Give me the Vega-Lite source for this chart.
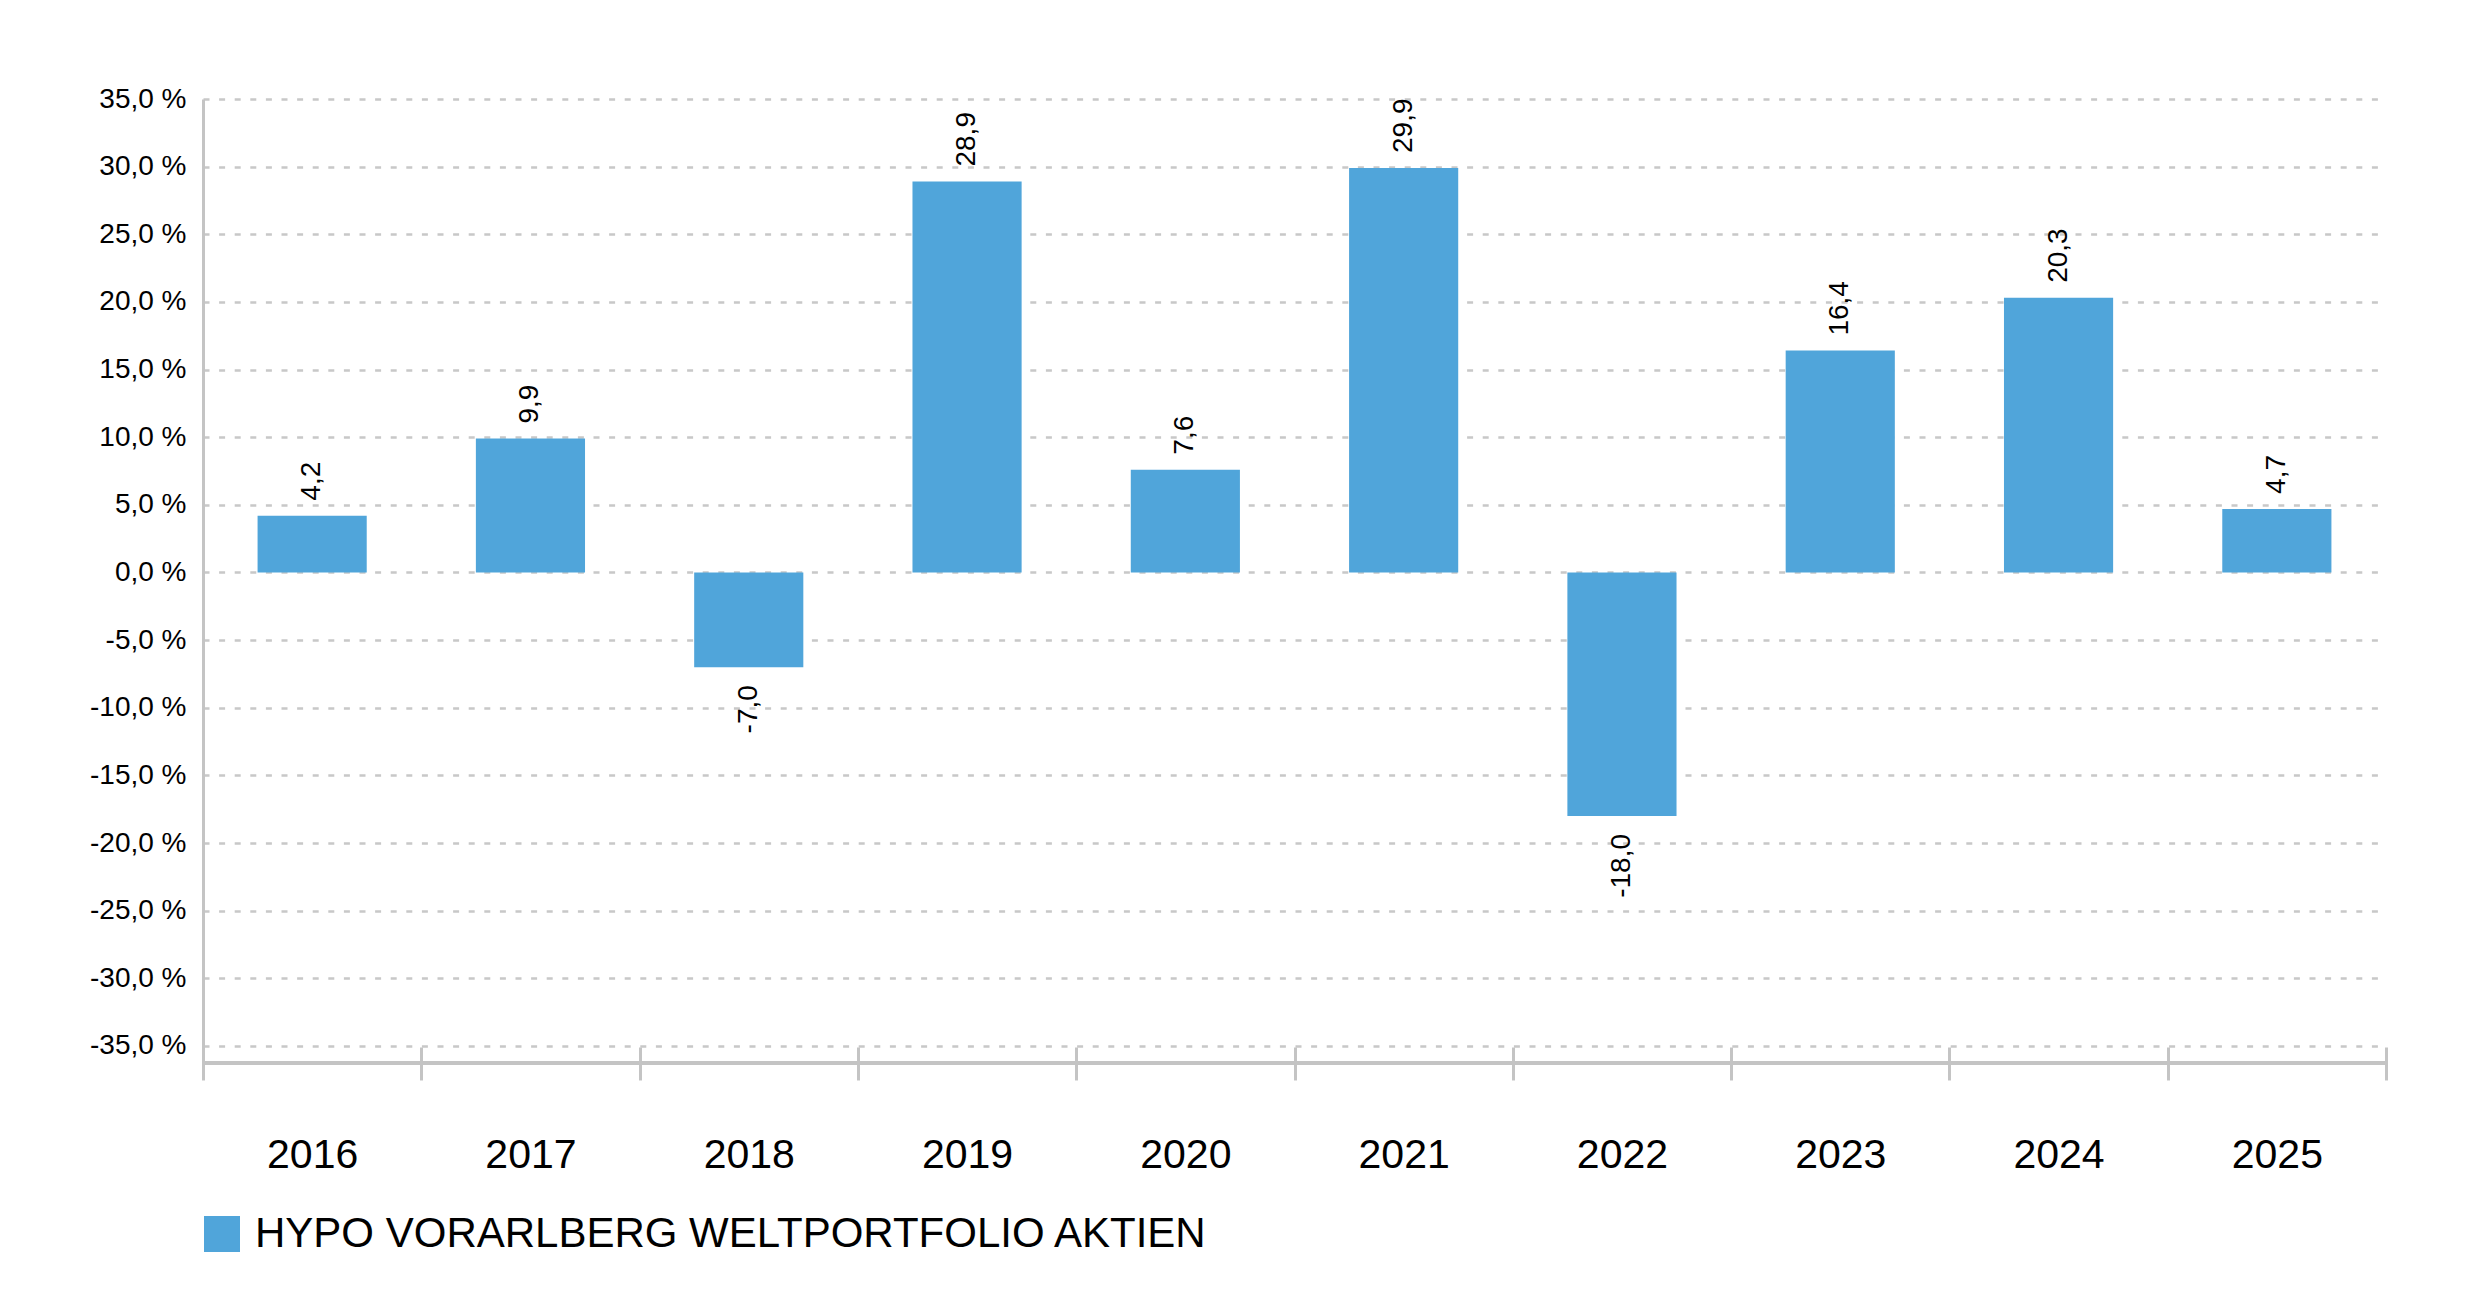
{
  "$schema": "https://vega.github.io/schema/vega-lite/v6.json",
  "width": 2183,
  "height": 964,
  "autosize": "none",
  "padding": {"left": 203, "top": 99, "right": 94, "bottom": 236},
  "background": "white",
  "config": {
    "locale": {"number": {"decimal": ",", "thousands": ".", "grouping": [3], "currency": ["", " €"], "minus": "-"}},
    "font": "Liberation Sans",
    "view": {"stroke": null}
  },
  "data": {
    "values": [
      {"year": "2016", "value": 4.2, "series": "HYPO VORARLBERG WELTPORTFOLIO AKTIEN"},
      {"year": "2017", "value": 9.9, "series": "HYPO VORARLBERG WELTPORTFOLIO AKTIEN"},
      {"year": "2018", "value": -7.0, "series": "HYPO VORARLBERG WELTPORTFOLIO AKTIEN"},
      {"year": "2019", "value": 28.9, "series": "HYPO VORARLBERG WELTPORTFOLIO AKTIEN"},
      {"year": "2020", "value": 7.6, "series": "HYPO VORARLBERG WELTPORTFOLIO AKTIEN"},
      {"year": "2021", "value": 29.9, "series": "HYPO VORARLBERG WELTPORTFOLIO AKTIEN"},
      {"year": "2022", "value": -18.0, "series": "HYPO VORARLBERG WELTPORTFOLIO AKTIEN"},
      {"year": "2023", "value": 16.4, "series": "HYPO VORARLBERG WELTPORTFOLIO AKTIEN"},
      {"year": "2024", "value": 20.3, "series": "HYPO VORARLBERG WELTPORTFOLIO AKTIEN"},
      {"year": "2025", "value": 4.7, "series": "HYPO VORARLBERG WELTPORTFOLIO AKTIEN"}
    ]
  },
  "layer": [
    {
      "mark": {"type": "bar", "width": {"band": 0.5}},
      "encoding": {
        "x": {
          "field": "year",
          "type": "nominal",
          "sort": null,
          "scale": {"paddingInner": 0, "paddingOuter": 0},
          "axis": {
            "title": null,
            "domain": false,
            "grid": false,
            "tickBand": "extent",
            "offset": -16,
            "tickSize": 33,
            "tickWidth": 3,
            "tickColor": "#c4c4c4",
            "labelAngle": 0,
            "labelFontSize": 41,
            "labelColor": "#000000",
            "labelFont": "Liberation Sans",
            "labelPadding": 55
          }
        },
        "y": {
          "field": "value",
          "type": "quantitative",
          "scale": {"domain": [-36.26, 35], "nice": false, "zero": false},
          "axis": {
            "title": null,
            "values": [-35, -30, -25, -20, -15, -10, -5, 0, 5, 10, 15, 20, 25, 30, 35],
            "format": ".1f",
            "labelExpr": "datum.label + ' %'",
            "labelFontSize": 28,
            "labelColor": "#000000",
            "labelFont": "Liberation Sans",
            "labelPadding": 17,
            "ticks": false,
            "domain": true,
            "domainColor": "#c4c4c4",
            "domainWidth": 3,
            "grid": true,
            "gridColor": "#c8c8c8",
            "gridWidth": 2.5,
            "gridDash": [6, 9.6]
          }
        },
        "color": {
          "field": "series",
          "type": "nominal",
          "scale": {"range": ["#50A5DA"]},
          "legend": {
            "title": null,
            "orient": "none",
            "legendX": -2,
            "legendY": 1114,
            "padding": 0,
            "symbolType": "square",
            "symbolSize": 1296,
            "symbolStrokeWidth": 0,
            "symbolOpacity": 1,
            "labelFontSize": 42,
            "labelColor": "#000000",
            "labelFont": "Liberation Sans",
            "labelOffset": 12,
            "labelLimit": 2000
          }
        }
      }
    },
    {
      "transform": [{"filter": "datum.value >= 0"}],
      "mark": {"type": "text", "angle": 270, "align": "left", "baseline": "middle", "dx": 15, "fontSize": 28, "color": "#000000", "font": "Liberation Sans"},
      "encoding": {
        "x": {"field": "year", "type": "nominal", "sort": null},
        "y": {"field": "value", "type": "quantitative"},
        "text": {"field": "value", "type": "quantitative", "format": ".1f"}
      }
    },
    {
      "transform": [{"filter": "datum.value < 0"}],
      "mark": {"type": "text", "angle": 270, "align": "right", "baseline": "middle", "dx": -18, "fontSize": 28, "color": "#000000", "font": "Liberation Sans"},
      "encoding": {
        "x": {"field": "year", "type": "nominal", "sort": null},
        "y": {"field": "value", "type": "quantitative"},
        "text": {"field": "value", "type": "quantitative", "format": ".1f"}
      }
    },
    {
      "mark": {"type": "rule", "color": "#c4c4c4", "strokeWidth": 3},
      "encoding": {"y": {"datum": -36.26}}
    }
  ]
}
